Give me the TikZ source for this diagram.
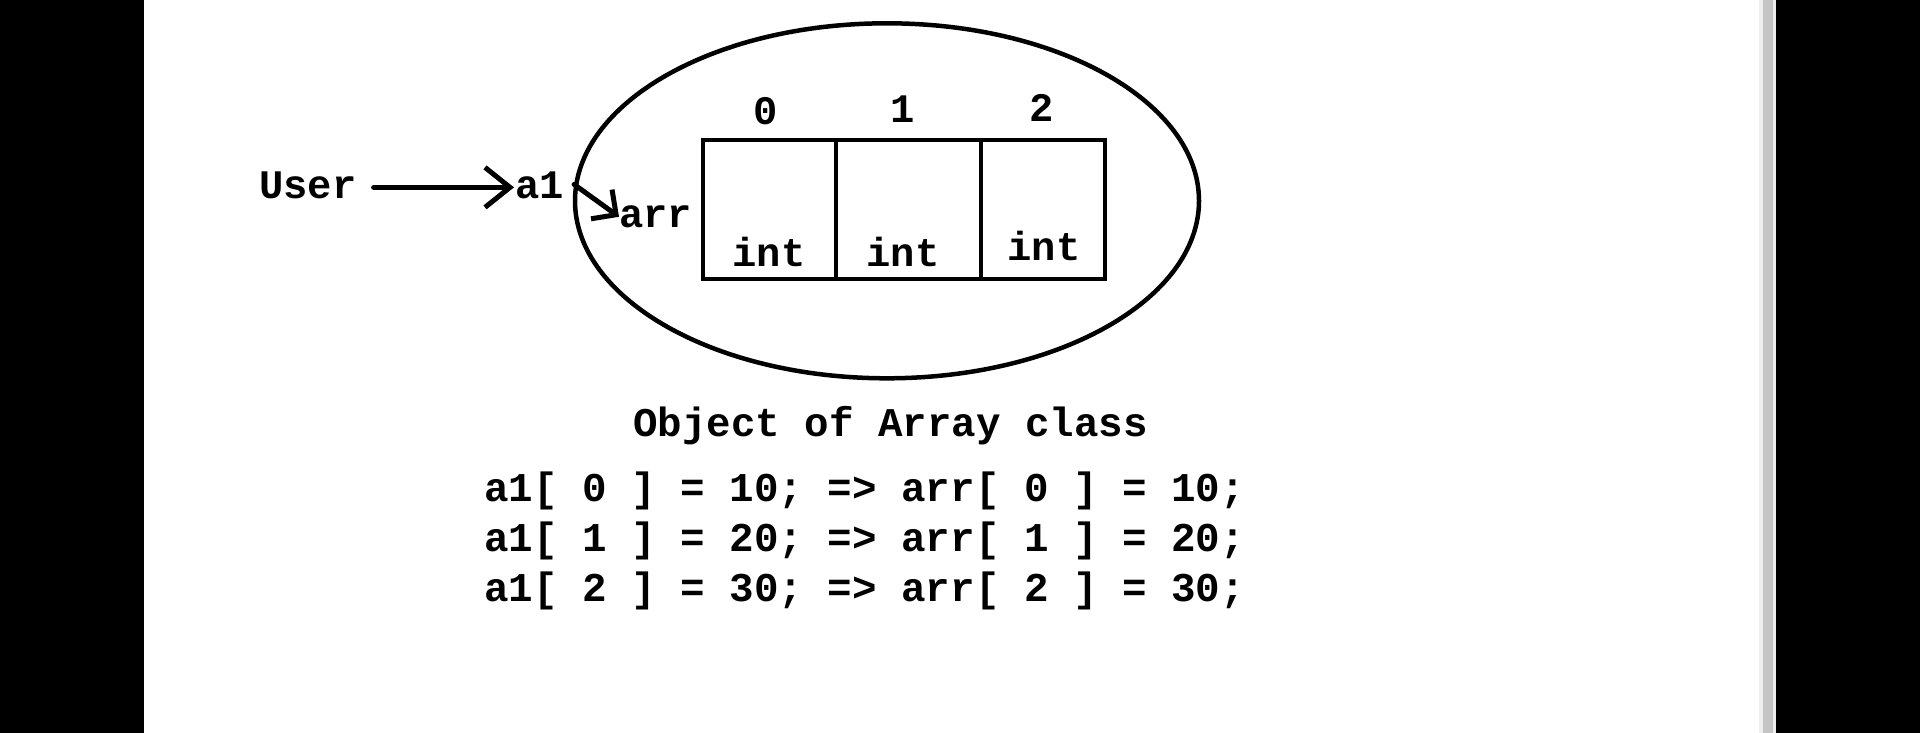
\documentclass[tikz,border=0pt]{standalone}
\usepackage{fontspec}
\usetikzlibrary{shapes.geometric,arrows.meta}
\newfontfamily\codefont{Liberation Mono}
\definecolor{scrollbar}{HTML}{C4C4C4}
\definecolor{scrolledge}{HTML}{EEEEEE}
\begin{document}
\begin{tikzpicture}[x=1pt,y=-1pt,
  txt/.style={inner sep=0pt, font=\codefont\bfseries\fontsize{40.5}{48}\selectfont, anchor=base},
  titletxt/.style={inner sep=0pt, font=\codefont\bfseries\fontsize{40.8}{48}\selectfont, anchor=base},
  codetxt/.style={inner sep=0pt, font=\codefont\bfseries\fontsize{40.9}{48}\selectfont, anchor=base west},
  oval/.style={draw, ellipse, line width=4.5pt, inner sep=0pt, minimum width=624pt, minimum height=355pt},
  cell/.style={draw, rectangle, line width=4pt, inner sep=0pt, minimum height=139pt, anchor=north west},
  conn/.style={line width=5pt, line cap=round, line join=round}]
\useasboundingbox (0,0) rectangle (1920,733);
% screen frame
\fill[black] (0,0) rectangle (1920,733);
\fill[white] (144,0) rectangle (1760,733);
\fill[scrolledge] (1759,0) rectangle (1763,733);
\fill[scrollbar] (1763,0) rectangle (1772.7,733);
\fill[scrolledge] (1772.7,0) rectangle (1776,733);
% object
\node[oval] (obj) at (887,200.8) {};
\node[cell, minimum width=133pt] (c0) at (700.5,138) {};
\node[cell, minimum width=145pt] (c1) at (833.5,138) {};
\node[cell, minimum width=124.5pt] (c2) at (978.5,138) {};
\node[txt] (i0) at (766,124.5) {0};
\node[txt] (i1) at (903,123) {1};
\node[txt] (i2) at (1042,121.5) {2};
\node[txt] (t0) at (769,266.5) {int};
\node[txt] (t1) at (903,266.5) {int};
\node[txt] (t2) at (1044,260.5) {int};
% references
\node[txt, anchor=base west] (user) at (259,198.5) {User};
\node[txt, anchor=base west] (a1) at (515,198.5) {a1};
\node[txt, anchor=base west] (arr) at (619,227.5) {arr};
\draw[conn, -{Straight Barb[length=25pt,width=40pt]}, shorten <=17pt, shorten >=1pt] ([yshift=-2pt]user.east) -- ([yshift=-2pt]a1.west);
\draw[conn, -{Straight Barb[length=18pt,width=36pt]}] (obj.177) -- (arr.west);
% captions
\node[titletxt] (title) at (890.5,436) {Object of Array class};
\node[codetxt] (l0) at (484,501) {a1[ 0 ] = 10; => arr[ 0 ] = 10;};
\node[codetxt] (l1) at (484,551) {a1[ 1 ] = 20; => arr[ 1 ] = 20;};
\node[codetxt] (l2) at (484,601) {a1[ 2 ] = 30; => arr[ 2 ] = 30;};
\end{tikzpicture}
\end{document}
